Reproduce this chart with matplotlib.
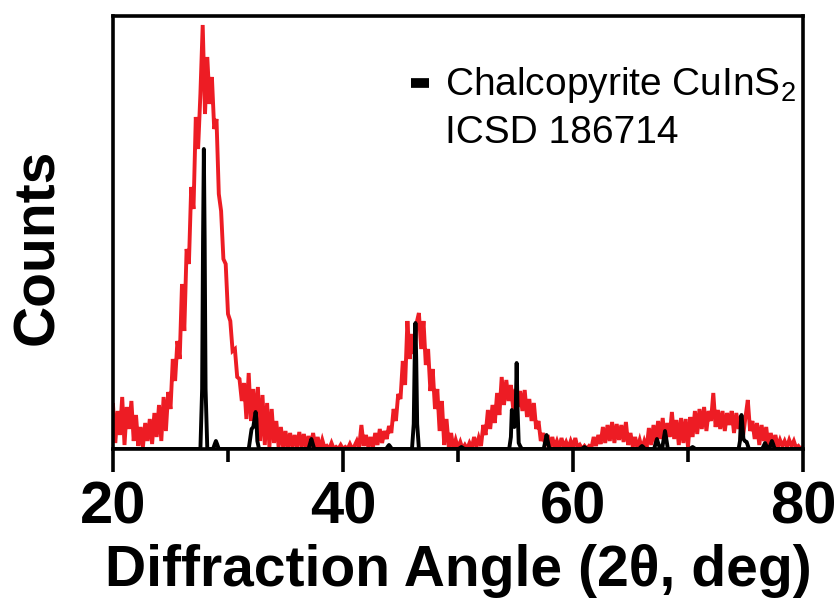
import numpy as np
import matplotlib
matplotlib.use("Agg")
import matplotlib.pyplot as plt

plt.rcParams['font.family'] = ['Liberation Sans', 'DejaVu Sans']
plt.rcParams['mathtext.fontset'] = 'custom'
plt.rcParams['mathtext.rm'] = 'Liberation Sans'
plt.rcParams['mathtext.it'] = 'Liberation Sans:italic'
plt.rcParams['mathtext.bf'] = 'Liberation Sans:bold'

# ---------------- data ----------------
# measured pattern: counts every 0.2 deg from 20.0 to 80.0 (one row per degree)
red_start, red_step = 20.0, 0.2
red_counts = [
    44, 6, 38, 14, 52,        # 20
    4, 42, 20, 48, 8,         # 21
    34, 3, 22, 2, 26,         # 22
    8, 30, 5, 36, 12,         # 23
    44, 8, 52, 18, 57,        # 24
    40, 90, 68, 108, 90,      # 25
    165, 118, 200, 185, 262,  # 26
    240, 332, 300, 355, 424,  # 27
    335, 392, 345, 372, 320,  # 28
    330, 255, 238, 190, 185,  # 29
    135, 128, 98, 100, 72,    # 30
    70, 48, 66, 30, 76,       # 31
    28, 60, 24, 62, 8,        # 32
    54, 4, 46, 2, 40,         # 33
    6, 28, 2, 22, 1,          # 34
    18, 0, 16, 2, 14,         # 35
    1, 17, 2, 15, 0,          # 36
    13, 2, 16, 1, 12,         # 37
    0, 9, 1, 3, 0,            # 38
    6, 0, 2, 0, 4,            # 39
    0, 2, 0, 5, 0,            # 40
    3, 8, 1, 24, 3,           # 41
    14, 2, 12, 1, 16,         # 42
    4, 20, 6, 18, 10,         # 43
    23, 16, 40, 28, 55,       # 44
    50, 88, 64, 128, 90,      # 45
    115, 95, 126, 136, 100,   # 46
    128, 84, 100, 58, 80,     # 47
    40, 60, 18, 48, 4,        # 48
    30, 2, 16, 0, 9,          # 49
    1, 7, 0, 4, 0,            # 50
    6, 1, 12, 2, 11,          # 51
    3, 24, 14, 39, 20,        # 52
    44, 26, 56, 34, 72,       # 53
    44, 69, 48, 64, 40,       # 54
    60, 42, 58, 38, 59,       # 55
    32, 50, 28, 46, 20,       # 56
    28, 8, 16, 3, 14,         # 57
    1, 12, 2, 8, 1,           # 58
    11, 2, 7, 1, 8,           # 59
    2, 11, 1, 4, 0,           # 60
    3, 0, 3, 1, 12,           # 61
    3, 14, 5, 22, 6,          # 62
    24, 8, 27, 6, 25,         # 63
    9, 24, 7, 27, 4,          # 64
    16, 2, 12, 1, 9,          # 65
    0, 8, 1, 21, 4,           # 66
    24, 6, 28, 10, 31,        # 67
    8, 26, 12, 37, 10,        # 68
    29, 4, 31, 6, 30,         # 69
    2, 32, 12, 38, 15,        # 70
    40, 20, 42, 18, 38,       # 71
    28, 56, 22, 39, 20,       # 72
    38, 18, 36, 24, 38,       # 73
    16, 36, 20, 33, 14,       # 74
    32, 49, 18, 28, 10,       # 75
    26, 4, 24, 8, 22,         # 76
    2, 16, 3, 14, 2,          # 77
    9, 3, 8, 2, 9,            # 78
    3, 8, 1, 3, 0,            # 79
    2,                        # 80
]

# reference pattern (Chalcopyrite CuInS2, ICSD 186714), traced profile
ref_angle = [
    20.0, 27.6, 27.75, 27.83, 27.9, 27.97, 28.05, 28.2,
    28.7, 28.85, 28.95, 29.05, 29.2,
    31.8, 31.95, 32.05, 32.2, 32.33, 32.4, 32.47, 32.55, 32.7,
    37.0, 37.15, 37.25, 37.35, 37.5,
    43.75, 43.9, 44.0, 44.1, 44.25,
    46.0, 46.15, 46.23, 46.3, 46.37, 46.45, 46.6,
    50.05, 50.2, 50.3, 50.4, 50.55,
    54.45, 54.6, 54.68, 54.78, 54.9, 55.02, 55.1, 55.18, 55.28, 55.4, 55.55,
    57.45, 57.6, 57.7, 57.8, 57.95,
    60.75, 60.9, 61.0, 61.1, 61.25,
    65.75, 65.9, 66.0, 66.1, 66.25,
    67.05, 67.2, 67.3, 67.4, 67.6, 67.75, 67.9, 68.0, 68.1, 68.25,
    70.15, 70.3, 70.4, 70.5, 70.65,
    74.4, 74.52, 74.6, 74.65, 74.72, 74.82, 74.95, 75.1, 75.3,
    76.45, 76.6, 76.7, 76.8, 76.95, 77.05, 77.2, 77.3, 77.4, 77.55,
    80.0,
]
ref_counts = [
    0, 0, 60, 210, 300, 210, 60, 0,
    0, 5, 8, 5, 0,
    0, 12, 20, 22, 32, 37, 30, 8, 0,
    0, 6, 10, 6, 0,
    0, 2.5, 4, 2.5, 0,
    0, 25, 88, 126, 88, 25, 0,
    0, 1.2, 2, 1.2, 0,
    0, 12, 39, 30, 22, 40, 86, 40, 6, 3, 0,
    0, 8, 14, 8, 0,
    0, 1.2, 2, 1.2, 0,
    0, 2, 3, 2, 0,
    0, 6, 10, 6, 0, 0, 11, 18, 11, 0,
    0, 1.2, 2, 1.2, 0,
    0, 8, 28, 34, 26, 10, 8, 7, 0,
    0, 3.5, 6, 3.5, 0, 0, 5, 8, 5, 0,
    0,
]

x_major = [20, 40, 60, 80]
x_minor = [30, 50, 70]
legend_lines = ["Chalcopyrite CuInS$_2$", "ICSD 186714"]

red_angle = red_start + red_step * np.arange(len(red_counts))

# ---------------- figure ----------------
W, H = 839, 605
fig = plt.figure(figsize=(W / 100, H / 100), dpi=100)
ax = fig.add_axes([113 / W, 1 - 449 / H, (803 - 113) / W, (449 - 16) / H])

ax.plot(red_angle, red_counts, color='#ed1c24', lw=2.8, solid_joinstyle='miter')
ax.plot(ref_angle, ref_counts, color='black', lw=2.8, solid_joinstyle='round',
        solid_capstyle='round')

ax.set_xlim(20, 80)
ax.set_ylim(0, 433)

for s in ax.spines.values():
    s.set_linewidth(2.6)
ax.set_xticks(x_major)
ax.set_xticks(x_minor, minor=True)
ax.set_yticks([])
ax.tick_params(axis='x', which='major', direction='out', length=16.5, width=2.6,
               pad=6, labelsize=43)
ax.tick_params(axis='x', which='minor', direction='out', length=9.5, width=2.6)
for lab in ax.get_xticklabels():
    lab.set_fontweight('bold')

ax.set_xlabel("Diffraction Angle (2\u03b8, deg)", fontsize=41, fontweight='bold',
              labelpad=6)
fig.text(38 / W, 1 - 247 / H, "Counts", rotation=90, fontsize=41,
         fontweight='bold', ha='center', va='center')

# legend
ax.plot([0.432, 0.458], [0.846, 0.846], transform=ax.transAxes, color='black',
        lw=7, solid_capstyle='butt', clip_on=False)
ax.text(0.481, 0.8176, legend_lines[0], transform=ax.transAxes, fontsize=28,
        ha='left', va='baseline')
ax.text(0.481, 0.7067, legend_lines[1], transform=ax.transAxes, fontsize=28,
        ha='left', va='baseline')

fig.savefig("out.png", dpi=100)
